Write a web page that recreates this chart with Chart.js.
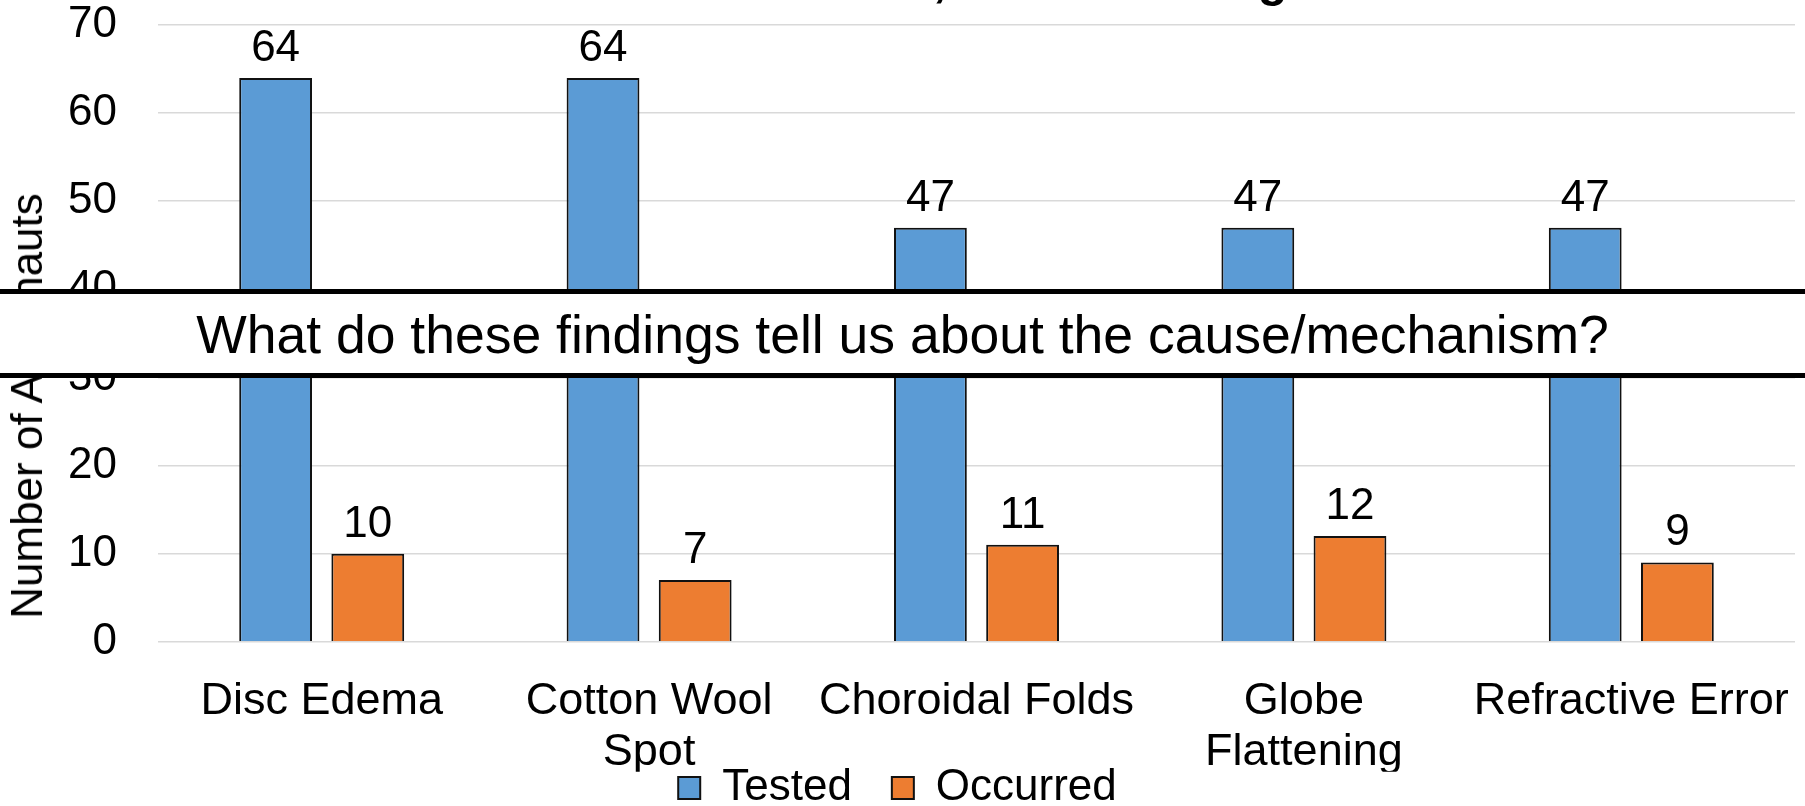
<!DOCTYPE html>
<html>
<head>
<meta charset="utf-8">
<script src="https://cdn.jsdelivr.net/npm/chart.js@4.4.1/dist/chart.umd.min.js"></script>
<style>
  html, body { margin: 0; padding: 0; background: #fff; overflow: hidden; }
  body { width: 1805px; height: 806px; position: relative; font-family: "Liberation Sans", Arial, sans-serif; }
  #wrap { position: absolute; left: 0; top: -60px; width: 1805px; height: 866px; }
  #yTitle {
    position: absolute; left: 27px; top: 406px;
    transform: translate(-50%, -50%) rotate(-90deg);
    font-size: 44px; line-height: 50px; white-space: nowrap; color: #000;
  }
  #banner {
    position: absolute; left: 0; top: 289px; width: 1805px;
    height: 78px; padding-top: 1px;
    border-top: 5px solid #000; border-bottom: 5px solid #000;
    background: #fff; color: #000; text-align: center;
    font-size: 53.5px; line-height: 79px; white-space: nowrap;
  }
</style>
</head>
<body>
<div id="wrap"><canvas id="chart"></canvas></div>
<div id="yTitle">Number of Astronauts</div>
<div id="banner">What do these findings tell us about the cause/mechanism?</div>
<script>
const categories = ['Disc Edema', ['Cotton Wool', 'Spot'], 'Choroidal Folds', ['Globe', 'Flattening'], 'Refractive Error'];
const testedValues = [64, 64, 47, 47, 47];
const occurredValues = [10, 7, 11, 12, 9];
const seriesNames = ['Tested', 'Occurred'];
const yMin = 0, yMax = 70, yStep = 10;

Chart.defaults.font.family = '"Liberation Sans", Arial, sans-serif';
Chart.defaults.color = '#000';

// value labels above each bar
const barLabels = {
    id: 'barLabels',
    afterDatasetsDraw(chart) {
        const ctx = chart.ctx;
        ctx.save();
        ctx.font = '44px "Liberation Sans", Arial, sans-serif';
        ctx.fillStyle = '#000';
        ctx.textAlign = 'center';
        ctx.textBaseline = 'alphabetic';
        chart.data.datasets.forEach((ds, i) => {
            chart.getDatasetMeta(i).data.forEach((bar, j) => {
                ctx.fillText(ds.data[j], bar.x, bar.y - 17);
            });
        });
        ctx.restore();
    }
};

// legend sits tight under the two-line category labels
const legendNudge = {
    id: 'legendNudge',
    afterLayout(chart) {
        const lg = chart.legend;
        lg.top = chart.height - 80;
        lg.bottom = chart.height;
        lg.height = 80;
    }
};

const ctx = document.getElementById('chart').getContext('2d');
new Chart(ctx, {
    type: 'bar',
    data: {
        labels: categories,
        datasets: [
            { label: seriesNames[0], data: testedValues, backgroundColor: '#5B9BD5', borderColor: '#111', borderWidth: 2, categoryPercentage: 0.563, barPercentage: 0.79 },
            { label: seriesNames[1], data: occurredValues, backgroundColor: '#ED7D31', borderColor: '#111', borderWidth: 2, categoryPercentage: 0.563, barPercentage: 0.79 }
        ]
    },
    options: {
        responsive: true, maintainAspectRatio: false, animation: false,
        layout: { padding: { left: 0, right: 10, top: 0, bottom: 0 } },
        scales: {
            x: {
                grid: { display: false },
                border: { display: false },
                ticks: { font: { size: 45, lineHeight: 1.125 }, padding: 27, maxRotation: 0, autoSkip: false },
                afterFit(s) { s.height = 130; s.paddingLeft = 0; s.paddingRight = 0; }
            },
            y: {
                min: yMin, max: yMax,
                ticks: { stepSize: yStep, font: { size: 44 }, padding: 41 },
                grid: { color: '#d9d9d9', lineWidth: 1.5, drawTicks: false },
                border: { display: false },
                afterFit(s) { s.width = 158; }
            }
        },
        plugins: {
            title: {
                display: true, fullSize: false,
                text: 'VIIP Effects, Vision Testing',
                font: { size: 48.6, weight: 'bold' },
                padding: { top: 13.8, bottom: 12.9 }
            },
            legend: {
                position: 'bottom', maxHeight: 34.25,
                labels: { font: { size: 44 }, boxWidth: 22, boxHeight: 22, padding: 40 }
            },
            tooltip: { enabled: false }
        }
    },
    plugins: [barLabels, legendNudge]
});
</script>
</body>
</html>
